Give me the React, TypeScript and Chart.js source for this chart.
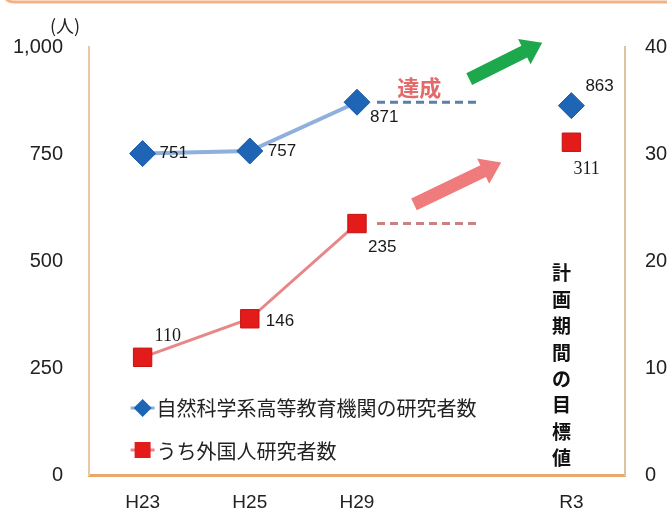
import React, { useEffect, useRef } from 'react';
import { Chart, registerables } from 'chart.js';

Chart.register(...registerables);

const categories = ['H23', 'H25', 'H29', '', 'R3'];
const researchers: (number | null)[] = [751, 757, 871, null, 863];
// plotted on the right axis (units of 10 people); labels show the head count
const foreignResearchers: (number | null)[] = [11.0, 14.6, 23.5, null, 31.1];
const foreignLabels = ['110', '146', '235', '', '311'];
const researcherLabels = ['751', '757', '871', '', '863'];
const leftTickStep = 250;
const leftMax = 1000;
const rightTickStep = 10;
const rightMax = 40;
const seriesNames = ['自然科学系高等教育機関の研究者数', 'うち外国人研究者数'];
const goalText = '計画期間の目標値';
const achievedText = '達成';
const unitText = '(人)';

const SANS = '"Liberation Sans", Arial, sans-serif';
const SERIF = '"Liberation Serif", "Times New Roman", serif';
const CJK = '"Noto Sans CJK JP", "Noto Sans", sans-serif';

const blueLabelOffsets = [[17, 0], [18, 0], [13, 15], [0, 0], [14, -19]];
const redLabelOffsets = [[12, -21], [16, 3], [11, 24], [0, 0], [2, 27]];
const redLabelSerif = [true, false, false, false, true];

function drawArrow(ctx: CanvasRenderingContext2D, x1: number, y1: number, x2: number, y2: number, shaft: number, headW: number, headL: number, color: string) {
  const ang = Math.atan2(y2 - y1, x2 - x1);
  const len = Math.hypot(x2 - x1, y2 - y1);
  ctx.save();
  ctx.translate(x1, y1);
  ctx.rotate(ang);
  ctx.beginPath();
  ctx.moveTo(0, -shaft / 2);
  ctx.lineTo(len - headL, -shaft / 2);
  ctx.lineTo(len - headL, -headW / 2);
  ctx.lineTo(len, 0);
  ctx.lineTo(len - headL, headW / 2);
  ctx.lineTo(len - headL, shaft / 2);
  ctx.lineTo(0, shaft / 2);
  ctx.closePath();
  ctx.fillStyle = color;
  ctx.fill();
  ctx.restore();
}

const overlayPlugin = {
  id: 'overlay',
  afterDraw(chart: any) {
    const { ctx, chartArea, scales } = chart;
    const xs = scales.x, ys = scales.y, ys2 = scales.y2;
    const px = (i: number) => xs.getPixelForValue(i);
    const py = (v: number) => ys.getPixelForValue(v);
    const py2 = (v: number) => ys2.getPixelForValue(v);
    ctx.save();

    // top frame line
    ctx.strokeStyle = '#F4B183';
    ctx.lineWidth = 3;
    ctx.beginPath();
    ctx.roundRect(2, -40, chart.width + 40, 42, 12);
    ctx.stroke();

    // unit label
    ctx.fillStyle = '#222';
    ctx.font = `18px ${CJK}`;
    ctx.textAlign = 'center';
    ctx.textBaseline = 'middle';
    ctx.fillText(unitText, chartArea.left - 24, chartArea.top - 21);

    // dashed "achieved" lines
    ctx.setLineDash([8, 5]);
    ctx.lineWidth = 3;
    ctx.strokeStyle = '#5B7FA6';
    ctx.beginPath();
    ctx.moveTo(px(2) + 20, py(researchers[2] as number));
    ctx.lineTo(px(3) + 15, py(researchers[2] as number));
    ctx.stroke();
    ctx.strokeStyle = '#C98182';
    ctx.beginPath();
    ctx.moveTo(px(2) + 20, py2(foreignResearchers[2] as number));
    ctx.lineTo(px(3) + 15, py2(foreignResearchers[2] as number));
    ctx.stroke();
    ctx.setLineDash([]);

    // arrows
    drawArrow(ctx, px(3) + 5, py(925), px(3) + 78, py(1010), 13, 28, 20, '#1EA84C');
    drawArrow(ctx, px(2) + 57, py2(25.3), px(3) + 37, py2(29.2), 13, 28, 20, '#EF7B7C');

    // 達成
    ctx.font = `bold 22px ${CJK}`;
    ctx.fillStyle = '#E36A6B';
    ctx.textAlign = 'center';
    ctx.textBaseline = 'middle';
    ctx.fillText(achievedText, px(3) - 45, py(905));

    // vertical goal text
    ctx.font = `bold 19px ${CJK}`;
    ctx.fillStyle = '#111';
    const chars = Array.from(goalText);
    chars.forEach((c, i) => {
      ctx.fillText(c, px(4) - 10, chartArea.bottom - 17 - (chars.length - 1 - i) * 26.4);
    });

    // legend inside plot
    const lx = px(0);
    const ly1 = chartArea.bottom - 67;
    const ly2 = chartArea.bottom - 25;
    ctx.lineWidth = 3;
    ctx.strokeStyle = '#8FB0DC';
    ctx.beginPath(); ctx.moveTo(lx - 12, ly1); ctx.lineTo(lx + 12, ly1); ctx.stroke();
    ctx.fillStyle = '#1F65B5';
    ctx.beginPath();
    ctx.moveTo(lx - 9, ly1); ctx.lineTo(lx, ly1 - 9); ctx.lineTo(lx + 9, ly1); ctx.lineTo(lx, ly1 + 9);
    ctx.closePath(); ctx.fill();
    ctx.strokeStyle = '#E78788';
    ctx.beginPath(); ctx.moveTo(lx - 12, ly2); ctx.lineTo(lx + 12, ly2); ctx.stroke();
    ctx.fillStyle = '#E31B1B';
    ctx.fillRect(lx - 8, ly2 - 8, 16, 16);
    ctx.fillStyle = '#222';
    ctx.font = `20px ${CJK}`;
    ctx.textAlign = 'left';
    ctx.textBaseline = 'middle';
    ctx.fillText(seriesNames[0], lx + 14, ly1);
    ctx.fillText(seriesNames[1], lx + 14, ly2 + 1);

    // data labels
    const m0 = chart.getDatasetMeta(0);
    const m1 = chart.getDatasetMeta(1);
    ctx.fillStyle = '#1a1a1a';
    researcherLabels.forEach((t, i) => {
      if (!t) return;
      const p = m0.data[i];
      ctx.font = `17px ${SANS}`;
      ctx.fillText(t, p.x + blueLabelOffsets[i][0], p.y + blueLabelOffsets[i][1]);
    });
    foreignLabels.forEach((t, i) => {
      if (!t) return;
      const p = m1.data[i];
      ctx.font = redLabelSerif[i] ? `18px ${SERIF}` : `17px ${SANS}`;
      ctx.fillText(t, p.x + redLabelOffsets[i][0], p.y + redLabelOffsets[i][1]);
    });
    ctx.restore();
  },
};

export default function App() {
  const ref = useRef<HTMLCanvasElement | null>(null);
  useEffect(() => {
    if (!ref.current) return;
    const chart = new Chart(ref.current, {
      type: 'line',
      data: {
        labels: categories,
        datasets: [
          {
            label: seriesNames[0],
            data: researchers,
            yAxisID: 'y',
            borderColor: '#8FB0DC',
            borderWidth: 4,
            pointStyle: 'rectRot',
            pointRadius: 13,
            pointBackgroundColor: '#1F65B5',
            pointBorderColor: '#1A5AA5',
            pointBorderWidth: 1,
            spanGaps: false,
          },
          {
            label: seriesNames[1],
            data: foreignResearchers,
            yAxisID: 'y2',
            borderColor: '#E78788',
            borderWidth: 3,
            pointStyle: 'rect',
            pointRadius: 13,
            pointBackgroundColor: '#E31B1B',
            pointBorderColor: '#C41212',
            pointBorderWidth: 1,
            spanGaps: false,
          },
        ],
      },
      options: {
        animation: false,
        responsive: false,
        maintainAspectRatio: false,
        layout: { padding: { top: 47, left: 0, right: 0, bottom: 0 } },
        plugins: { legend: { display: false }, tooltip: { enabled: false } },
        scales: {
          x: {
            offset: true,
            grid: { display: false, drawTicks: false },
            border: { color: '#E9A86A', width: 3 },
            ticks: { padding: 16, autoSkip: false, maxRotation: 0, color: '#222', font: { family: SANS, size: 19 } },
            afterFit: (s: any) => { s.height = 36; },
          },
          y: {
            position: 'left',
            min: 0,
            max: leftMax,
            grid: { display: false, drawTicks: false },
            border: { color: '#E8CBA5', width: 2 },
            ticks: {
              stepSize: leftTickStep,
              padding: 26,
              color: '#222',
              font: { family: SANS, size: 20 },
              callback: (v: any) => Number(v).toLocaleString('en-US'),
            },
            afterFit: (s: any) => { s.width = 89; },
          },
          y2: {
            position: 'right',
            min: 0,
            max: rightMax,
            grid: { display: false, drawTicks: false },
            border: { color: '#DCC29E', width: 2 },
            ticks: { stepSize: rightTickStep, padding: 20, color: '#222', font: { family: SANS, size: 20 } },
            afterFit: (s: any) => { s.width = 42; },
          },
        },
      },
      plugins: [overlayPlugin],
    } as any);
    return () => chart.destroy();
  }, []);
  return (
    <div style={{ position: 'absolute', left: 0, top: 0, width: 667, height: 513, background: '#fff' }}>
      <canvas ref={ref} width={667} height={513} style={{ display: 'block' }} />
    </div>
  );
}
